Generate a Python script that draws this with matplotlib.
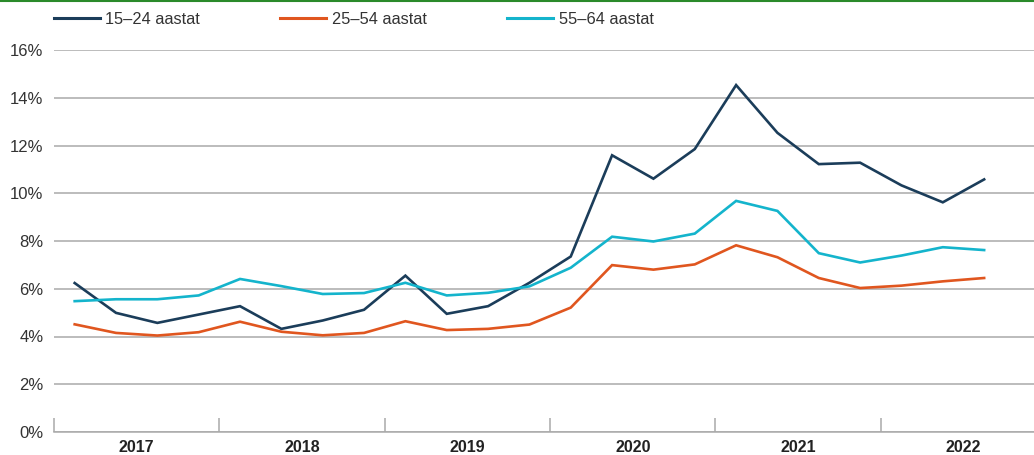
import numpy as np
import matplotlib.pyplot as plt
from matplotlib.lines import Line2D
from matplotlib.transforms import blended_transform_factory

plt.rcParams['font.family'] = ['Liberation Sans', 'DejaVu Sans']

# --- andmed (kvartalid 2017 Q1 ... 2022 Q3) ---
years = ['2017', '2018', '2019', '2020', '2021', '2022']
labels = ['15–24 aastat', '25–54 aastat', '55–64 aastat']
colors = ['#1b3d5a', '#e0561f', '#14b4cc']

age_15_24 = [6.24, 4.99, 4.57, 4.92, 5.27, 4.32, 4.67, 5.12,
             6.55, 4.95, 5.27, 6.25, 7.35, 11.59, 10.61, 11.85,
             14.53, 12.53, 11.22, 11.28, 10.33, 9.62, 10.58]
age_25_54 = [4.51, 4.15, 4.04, 4.18, 4.62, 4.20, 4.05, 4.15,
             4.64, 4.27, 4.32, 4.50, 5.21, 6.99, 6.80, 7.02,
             7.82, 7.32, 6.45, 6.03, 6.13, 6.31, 6.45]
age_55_64 = [5.48, 5.56, 5.56, 5.72, 6.41, 6.11, 5.78, 5.82,
             6.25, 5.72, 5.83, 6.10, 6.88, 8.18, 7.98, 8.31,
             9.68, 9.26, 7.49, 7.10, 7.39, 7.74, 7.62]

series = [age_15_24, age_25_54, age_55_64]

W, H = 1034, 455
fig = plt.figure(figsize=(W / 100, H / 100), dpi=100)
ax = fig.add_axes([54 / W, 1 - 432 / H, 1 - 54 / W, (432 - 50) / H])

x = np.arange(len(age_15_24))
for vals, col in zip(series, colors):
    ax.plot(x, vals, color=col, linewidth=1.9, solid_joinstyle='miter', zorder=3)

# teljed
ax.set_ylim(0, 16)
ax.set_yticks(np.arange(0, 17, 2))
ax.set_yticklabels([f'{v}%' for v in range(0, 17, 2)])
ax.set_xlim(-0.5, -0.5 + 980 / 41.34)
ax.grid(axis='y', color='#aaaaaa', linewidth=1.1)
ax.set_axisbelow(True)
for s in ['top', 'right', 'left']:
    ax.spines[s].set_visible(False)
ax.spines['bottom'].set_color('#aaaaaa')
ax.spines['bottom'].set_linewidth(1.1)

ax.set_xticks(np.arange(-0.5, 23, 4))
ax.set_xticklabels([])
ax.tick_params(axis='x', direction='in', length=10, color='#aaaaaa', width=1.1)
ax.tick_params(axis='y', length=0, pad=7.5, labelsize=12, labelcolor='#333333')

trans = blended_transform_factory(ax.transData, fig.transFigure)
for i, yr in enumerate(years):
    ax.text(i * 4 + 1.5, 1 - 447 / H, yr, transform=trans, ha='center', va='center',
            fontsize=11.5, fontweight='bold', color='#222222', clip_on=False)

# legend
handles = [Line2D([], [], color=c, linewidth=2.2) for c in colors]
fig.legend(handles, labels, loc='center left', bbox_to_anchor=(39 / W, 1 - 19 / H),
           ncol=3, frameon=False, fontsize=11.8, handlelength=2.8, handletextpad=0.35,
           columnspacing=4.9, labelcolor='#333333')

# roheline joon üleval
fig.add_artist(Line2D([0, 1], [1 - 0.7 / H, 1 - 0.7 / H], transform=fig.transFigure,
                      color='#2a8a2a', linewidth=1.5))

fig.savefig('out.png', dpi=100)
